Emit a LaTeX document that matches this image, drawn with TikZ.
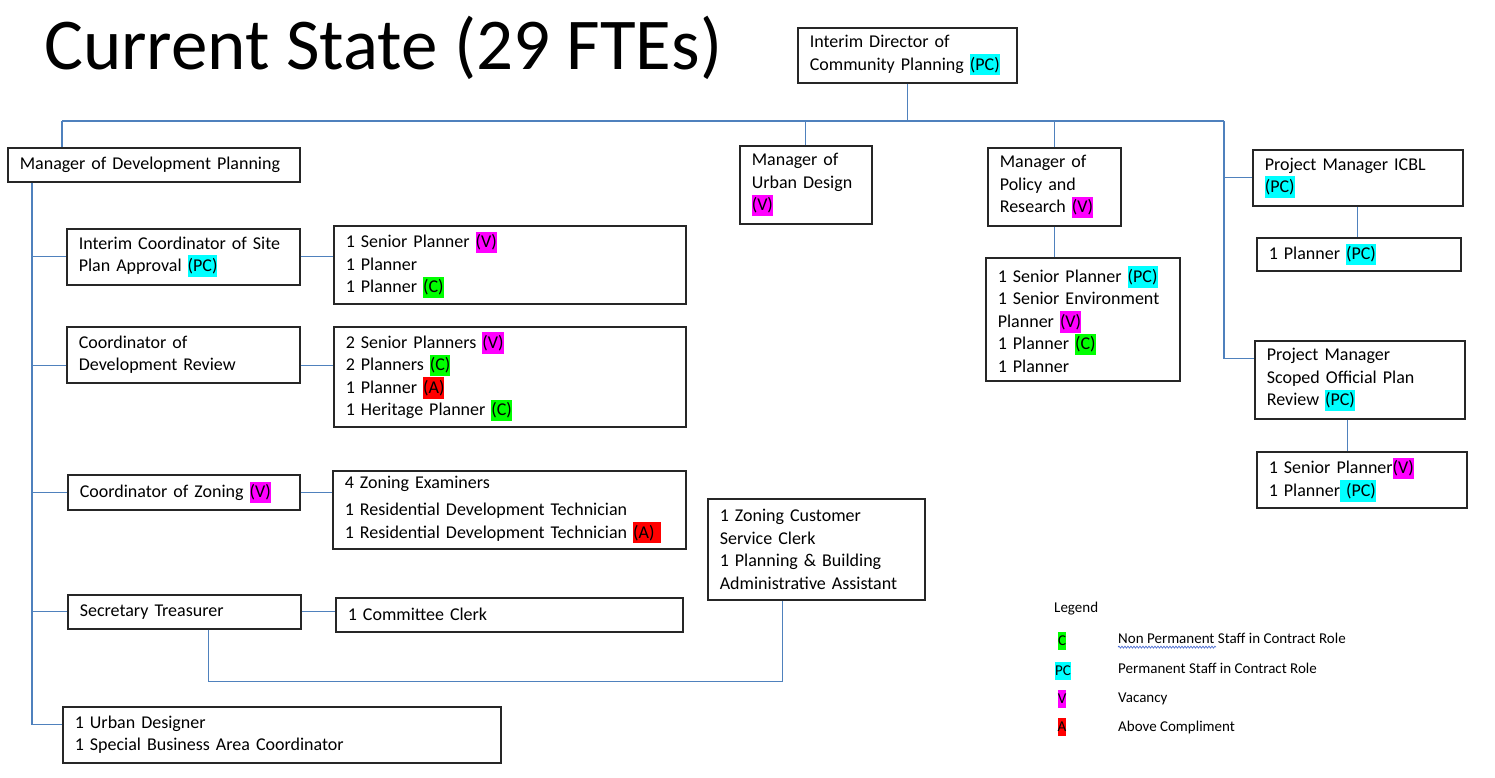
\documentclass[tikz,border=0pt]{standalone}
\usepackage{fontspec}
\setmainfont{Carlito}
\usepackage{xcolor}
\usepackage{tikz}
\usetikzlibrary{calc, decorations.pathmorphing}
\definecolor{linkblue}{HTML}{4F81BD}
\definecolor{pccyan}{HTML}{00FFFF}
\definecolor{vmagenta}{HTML}{FF00FF}
\definecolor{cgreen}{HTML}{00FF00}
\definecolor{ared}{HTML}{FF0000}
\definecolor{spellblue}{HTML}{3A5FCD}

\newcommand{\chartfont}{\fontsize{18}{22.5}\selectfont}
\newcommand{\legfont}{\fontsize{15}{18}\selectfont}
\newcommand{\bigtitlefont}{\fontsize{73}{80}\selectfont}
\newcommand{\hlt}[2]{{\setlength{\fboxsep}{0pt}\colorbox{#1}{\rule[-0.3em]{0pt}{1.2em}#2}}}
\newcommand{\tagPC}{\hlt{pccyan}{(PC)}}
\newcommand{\tagV}{\hlt{vmagenta}{(V)}}
\newcommand{\tagC}{\hlt{cgreen}{(C)}}
\newcommand{\tagA}{\hlt{ared}{(A)}}

\begin{document}
\begin{tikzpicture}[x=1pt, y=-1pt,
          orgbox/.style={draw=black!85, line width=1.6pt, fill=white, anchor=north west,
                         inner xsep=12pt, inner ysep=2pt, align=left, font=\chartfont},
          conn/.style={draw=linkblue, line width=1.1pt},
          legtext/.style={anchor=west, inner sep=0pt, font=\legfont}
        ]
        \fill[white] (0,0) rectangle (1495,777);
        \useasboundingbox (0,0) rectangle (1495,777);

        \node[anchor=base west, inner sep=0pt, font=\bigtitlefont] (title) at (44,69) {Current State (29 FTEs)};

        % top level
        \node[orgbox, text width=195pt, minimum height=55pt] (dir) at (797,27) {Interim Director of\\Community Planning \tagPC};
        \node[orgbox, text width=268pt, minimum height=34pt] (mdp) at (7,147) {Manager of Development Planning};
        \node[orgbox, text width=108pt, minimum height=78pt] (mud) at (739,145) {Manager of\\Urban Design\\\tagV};
        \node[orgbox, text width=109pt, minimum height=78pt] (pol) at (987,147) {Manager of\\Policy and\\Research \tagV};
        \node[orgbox, text width=170pt, minimum height=123pt] (polk) at (985,257) {1 Senior Planner \tagPC\\1 Senior Environment\\Planner \tagV\\1 Planner \tagC\\1 Planner};
        \node[orgbox, text width=186pt, minimum height=56pt] (pmi) at (1252,149) {Project Manager ICBL\\\tagPC};
        \node[orgbox, text width=180pt, minimum height=33pt] (pmik) at (1256,237) {1 Planner \tagPC};
        \node[orgbox, text width=186pt, minimum height=78pt] (pms) at (1254,340) {Project Manager\\Scoped Official Plan\\Review \tagPC};
        \node[orgbox, text width=186pt, minimum height=56pt] (pmsk) at (1256,451) {1 Senior Planner\tagV\\1 Planner\hlt{pccyan}{\ (PC)}};

        % development planning
        \node[orgbox, text width=209pt, minimum height=56pt] (spa) at (66,228) {Interim Coordinator of Site\\Plan Approval \tagPC};
        \node[orgbox, text width=328pt, minimum height=78pt] (spak) at (333,225) {1 Senior Planner \tagV\\1 Planner\\1 Planner \tagC};
        \node[orgbox, text width=209pt, minimum height=56pt] (cdr) at (66,326) {Coordinator of\\Development Review};
        \node[orgbox, text width=328pt, minimum height=100pt] (cdrk) at (333,326) {2 Senior Planners \tagV\\2 Planners \tagC\\1 Planner \tagA\\1 Heritage Planner \tagC};
        \node[orgbox, text width=208pt, minimum height=35pt] (zon) at (67,474) {Coordinator of Zoning \tagV};
        \node[orgbox, text width=329pt, minimum height=78pt] (zonk) at (332,470) {4 Zoning Examiners\\[4.5pt]1 Residential Development Technician\\1 Residential Development Technician \hlt{ared}{(A)\ }};
        \node[orgbox, text width=209pt, minimum height=34pt] (sec) at (67,594) {Secretary Treasurer};
        \node[orgbox, text width=323pt, minimum height=34pt] (seck) at (335,597) {1 Committee Clerk};
        \node[orgbox, text width=193pt, minimum height=101pt] (zcs) at (707,498) {1 Zoning Customer\\Service Clerk\\1 Planning \& Building\\Administrative Assistant};
        \node[orgbox, text width=414pt, minimum height=56pt] (ub) at (62,706) {1 Urban Designer\\1 Special Business Area Coordinator};

        % connectors
        \coordinate (busL) at (62,121);
        \coordinate (busR) at (1224,121);
        \draw[conn] (dir.south) -- (dir.south |- busL);
        \draw[conn] (busL) -- (busR);
        \draw[conn] (busL) -- (busL |- mdp.north);
        \draw[conn] (mud.north) -- (mud.north |- busL);
        \draw[conn] (pol.north) -- (pol.north |- busL);
        \draw[conn] (pol.south) -- (pol.south |- polk.north);
        \coordinate (pmsIn) at ([yshift=21pt]pms.west);
        \draw[conn] (busR) |- (pmsIn);
        \draw[conn] (busR |- pmi.west) -- (pmi.west);
        \draw[conn] (pmi.south) -- (pmi.south |- pmik.north);
        \coordinate (pmsOut) at ([xshift=-12pt]pms.south);
        \draw[conn] (pmsOut) -- (pmsOut |- pmsk.north);

        \coordinate (spine) at ([xshift=25pt]mdp.south west);
        \coordinate (ubIn) at ([yshift=10pt]ub.west);
        \coordinate (cdrIn) at ([yshift=-11pt]cdr.west);
        \draw[conn] (spine) |- (ubIn);
        \draw[conn] (spine |- spa.west) -- (spa.west);
        \draw[conn] (spine |- cdrIn) -- (cdrIn);
        \draw[conn] (spine |- zon.west) -- (zon.west);
        \draw[conn] (spine |- sec.west) -- (sec.west);
        \draw[conn] (spa.east) -- (spa.east -| spak.west);
        \draw[conn] (cdrIn -| cdr.east) -- (cdrIn -| cdrk.west);
        \draw[conn] (zon.east) -- (zon.east -| zonk.west);
        \draw[conn] (sec.east) -- (sec.east -| seck.west);
        \coordinate (secOut) at ([xshift=24pt]sec.south);
        \coordinate (zcsOut) at ([xshift=-34pt]zcs.south);
        \draw[conn] (secOut) |- ($(zcsOut)+(0,81)$) -- (zcsOut);

        % legend
        \node[legtext] (leg) at (1054,609) {Legend};
        \node[inner sep=0pt, font=\legfont] (swC) at (1062,641) {\hlt{cgreen}{C}};
        \node[inner sep=0pt, font=\legfont] (swPC) at (1063,671) {\hlt{pccyan}{PC}};
        \node[inner sep=0pt, font=\legfont] (swV) at (1062,699) {\hlt{vmagenta}{V}};
        \node[inner sep=0pt, font=\legfont] (swA) at (1062,727) {\hlt{ared}{A}};
        \node[legtext] (lgC) at (1118,638) {Non Permanent Staff in Contract Role};
        \node[legtext] (lgPC) at (1118,668) {Permanent Staff in Contract Role};
        \node[legtext] (lgV) at (1118,699) {Vacancy};
        \node[legtext] (lgA) at (1118,727) {Above Compliment};
        \draw[spellblue, line width=0.6pt, decorate, decoration={snake, amplitude=1pt, segment length=3pt}]
          ([yshift=-4pt]lgC.base west) -- ++(98,0);
      \end{tikzpicture}
\end{document}
